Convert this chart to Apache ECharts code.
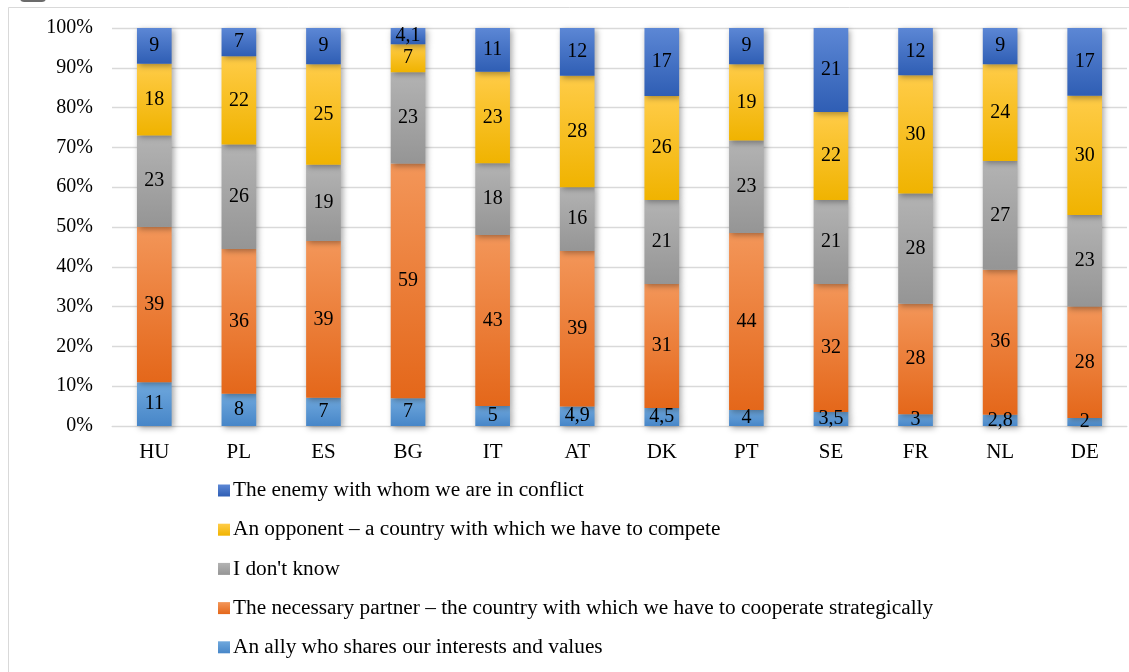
<!DOCTYPE html>
<html>
<head>
<meta charset="utf-8">
<script src="https://cdn.jsdelivr.net/npm/echarts@6/dist/echarts.min.js"></script>
<style>
html,body{margin:0;padding:0;background:#fff;}
#main{width:1129px;height:672px;}
</style>
</head>
<body>
<div id="main"></div>
<script>
var categories = ['HU','PL','ES','BG','IT','AT','DK','PT','SE','FR','NL','DE'];
var ally     = [11, 8, 7, 7, 5, 4.9, 4.5, 4, 3.5, 3, 2.8, 2];
var partner  = [39, 36, 39, 59, 43, 39, 31, 44, 32, 28, 36, 28];
var dontKnow = [23, 26, 19, 23, 18, 16, 21, 23, 21, 28, 27, 23];
var opponent = [18, 22, 25, 7, 23, 28, 26, 19, 22, 30, 24, 30];
var enemy    = [9, 7, 9, 4.1, 11, 12, 17, 9, 21, 12, 9, 17];
var yTicks = ['0%','10%','20%','30%','40%','50%','60%','70%','80%','90%','100%'];

var names = {
  ally: 'An ally who shares our interests and values',
  partner: 'The necessary partner \u2013 the country with which we have to cooperate strategically',
  dk: "I don't know",
  opp: 'An opponent \u2013 a country with which we have to compete',
  enemy: 'The enemy with whom we are in conflict'
};

var totals = categories.map(function(c, i){
  return ally[i] + partner[i] + dontKnow[i] + opponent[i] + enemy[i];
});
function pct(arr){ return arr.map(function(v, i){ return {value: v / totals[i] * 100, raw: v}; }); }
function grad(top, bottom){
  return new echarts.graphic.LinearGradient(0, 0, 0, 1, [{offset:0, color: top},{offset:1, color: bottom}]);
}
var font = 'Liberation Serif, Times New Roman, serif';
function mk(name, arr, top, bottom){
  return {
    name: name, type: 'bar', stack: 'all', barWidth: '41%',
    data: pct(arr),
    itemStyle: {
      color: grad(top, bottom),
      shadowColor: 'rgba(0,0,0,0.35)', shadowBlur: 6, shadowOffsetX: 2, shadowOffsetY: 2
    },
    label: {
      show: true, position: 'inside', color: '#000', fontFamily: font, fontSize: 20,
      formatter: function(p){ return String(p.data.raw).replace('.', ','); }
    },
    emphasis: {disabled: true}
  };
}

var chart = echarts.init(document.getElementById('main'));
chart.setOption({
  animation: false,
  backgroundColor: '#fff',
  graphic: [
    {type: 'rect', shape: {x: 8.5, y: 7.5, width: 1200, height: 800}, style: {fill: 'none', stroke: '#D9D9D9', lineWidth: 1}, silent: true},
    {type: 'rect', shape: {x: 20, y: -6, width: 26, height: 8, r: 4}, style: {fill: '#6b6b6b'}, silent: true}
  ],
  grid: {left: 112, right: 2, top: 28, bottom: 246},
  legend: {
    orient: 'vertical', left: 213, top: 475,
    itemWidth: 12, itemHeight: 12, itemGap: 18.2,
    icon: 'rect',
    textStyle: {fontFamily: font, fontSize: 21.3, color: '#000', padding: [0,0,0,-2]},
    data: [names.enemy, names.opp, names.dk, names.partner, names.ally]
  },
  xAxis: {
    type: 'category', data: categories,
    axisTick: {show: false},
    axisLine: {lineStyle: {color: '#D9D9D9', width: 1}},
    axisLabel: {color: '#000', fontFamily: font, fontSize: 21, margin: 16}
  },
  yAxis: {
    type: 'value', min: 0, max: 100, interval: 10,
    axisLabel: {color: '#000', fontFamily: font, fontSize: 20, margin: 19,
      formatter: function(v){ return yTicks[Math.round(v/10)]; }},
    splitLine: {lineStyle: {color: '#D9D9D9', width: 1.3}},
    axisLine: {show: false}, axisTick: {show: false}
  },
  series: [
    mk(names.ally, ally, '#6FA8DD', '#4786C8'),
    mk(names.partner, partner, '#F39659', '#E4671A'),
    mk(names.dk, dontKnow, '#B3B3B3', '#959595'),
    mk(names.opp, opponent, '#FFCC48', '#F0B300'),
    mk(names.enemy, enemy, '#5C87D5', '#2F5EB4')
  ]
});
</script>
</body>
</html>
